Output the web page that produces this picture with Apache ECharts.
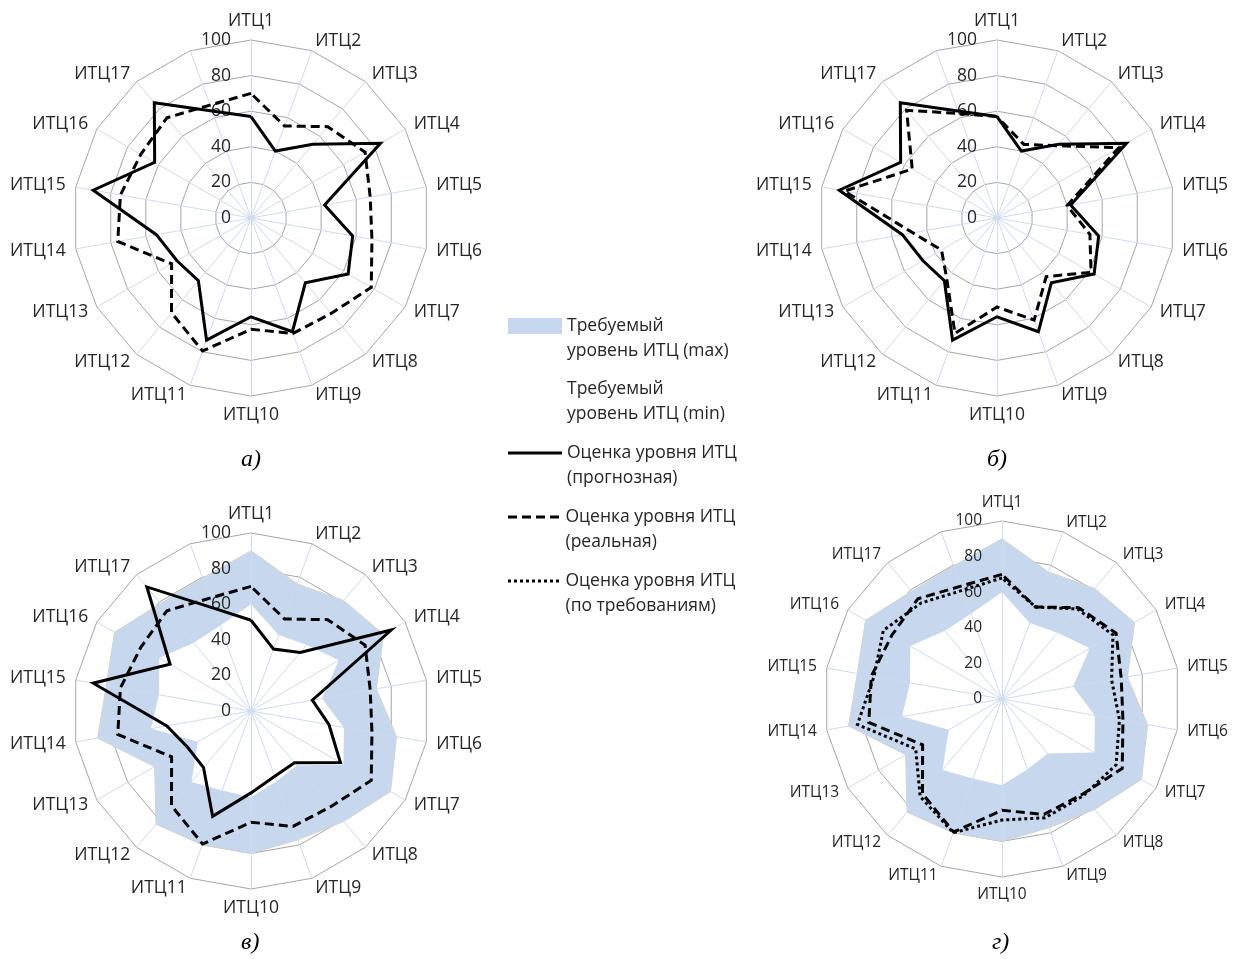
<!DOCTYPE html>
<html>
<head>
<meta charset="utf-8">
<script src="https://cdn.jsdelivr.net/npm/echarts@6/dist/echarts.min.js"></script>
<style>
html, body { margin: 0; padding: 0; background: #ffffff; }
#chart { width: 1237px; height: 959px; }
</style>
</head>
<body>
<div id="chart"></div>
<script>
// ---- data (index 17 is the unlabeled 18th spoke of the original chart) ----
const CATEGORIES = ['ИТЦ1','ИТЦ2','ИТЦ3','ИТЦ4','ИТЦ5','ИТЦ6','ИТЦ7','ИТЦ8','ИТЦ9',
                    'ИТЦ10','ИТЦ11','ИТЦ12','ИТЦ13','ИТЦ14','ИТЦ15','ИТЦ16','ИТЦ17',''];
const TICKS = [0, 20, 40, 60, 80, 100];
const PANEL_LABELS = ['а)', 'б)', 'в)', 'г)'];

const REQ_MAX     = [90, 76, 81, 86, 71.5, 83, 90.5, 81, 77, 80, 80, 83, 62.5, 87.5, 82.5, 88.5, 79, 79.5];
const REQ_MIN     = [60, 45.5, 48.5, 57, 40.5, 53, 60, 40, 42, 48.5, 47.5, 52, 34.5, 57, 52.5, 59.5, 50, 51];
const FORECAST_AB = [57, 40, 54, 84, 42, 58, 63, 47.5, 68, 55.5, 73, 46, 48, 54, 90, 62.5, 84.5, 64];
const FORECAST_V  = [51, 37, 43, 91, 35, 44.5, 58, 38, 39, 46, 63, 41.5, 41, 48, 90, 52.5, 91, 61.5];
const REAL        = [70, 55, 67, 74, 68, 69, 78, 70, 69, 62.5, 79.5, 69.5, 51.5, 76, 74.5, 71.5, 73.5, 67.5];
const REAL_B      = [57, 44, 53, 79, 40, 53, 61, 43, 61, 50, 69, 44, 36, 48, 87, 55, 79, 62.5];
const BY_REQ      = [68, 55, 66, 72, 62.5, 67, 74, 71, 71, 68, 80, 71.5, 56, 82.5, 73, 77, 70.5, 65];

// ---- series names / legend text ----
const N_MAX  = 'Требуемый уровень ИТЦ (max)';
const N_MIN  = 'Требуемый уровень ИТЦ (min)';
const N_FORE = 'Оценка уровня ИТЦ (прогнозная)';
const N_REAL = 'Оценка уровня ИТЦ (реальная)';
const N_REQ  = 'Оценка уровня ИТЦ (по требованиям)';
const LEGEND_TEXT = {};
LEGEND_TEXT[N_MAX]  = 'Требуемый\nуровень ИТЦ (max)';
LEGEND_TEXT[N_MIN]  = 'Требуемый\nуровень ИТЦ (min)';
LEGEND_TEXT[N_FORE] = 'Оценка уровня ИТЦ\n(прогнозная)';
LEGEND_TEXT[N_REAL] = 'Оценка уровня ИТЦ\n(реальная)';
LEGEND_TEXT[N_REQ]  = 'Оценка уровня ИТЦ\n(по требованиям)';

// ---- styling / layout ----
const FONT = "'Open Sans', 'Noto Sans', sans-serif";
const TEXT_COLOR = '#262626';
const BLUE = '#c6d7ee';
const RING = '#a6a6a6';
const SPOKE = '#cfdbee';
const R = 178;
const PANELS = [
  { cx: 251,  cy: 218, font: 17.5 },
  { cx: 997,  cy: 218, font: 17.5 },
  { cx: 251,  cy: 711, font: 17.5 },
  { cx: 1002, cy: 699, font: 15.5 }
];

// ECharts places radar indicators counter-clockwise; the original runs clockwise.
const ORDER = [0];
for (let k = CATEGORIES.length - 1; k >= 1; k--) ORDER.push(k);
const ord = arr => ORDER.map(i => arr[i]);

function baseRadar(p) {
  return {
    center: [p.cx, p.cy], radius: R, startAngle: 90, shape: 'polygon',
    splitNumber: TICKS.length - 1, z: 0,
    indicator: ORDER.map(i => ({ name: CATEGORIES[i], min: TICKS[0], max: TICKS[TICKS.length - 1] })),
    axisName: { color: TEXT_COLOR, fontSize: p.font, fontFamily: FONT },
    nameGap: 10,
    splitLine: { lineStyle: { color: RING, width: 1 } },
    splitArea: { show: false },
    axisLine: { show: false },
    axisTick: { show: false },
    axisLabel: { show: false }
  };
}
function overlayRadar(p) {
  return {
    center: [p.cx, p.cy], radius: R, startAngle: 90, shape: 'polygon',
    splitNumber: TICKS.length - 1, z: 2,
    indicator: ORDER.map((i, k) => ({
      name: '', min: TICKS[0], max: TICKS[TICKS.length - 1],
      axisLabel: k === 0
        ? { show: true, color: TEXT_COLOR, fontSize: p.font, fontFamily: FONT, margin: 20 }
        : { show: false }
    })),
    axisName: { show: false },
    splitLine: { show: false },
    splitArea: { show: false },
    axisLine: { show: true, lineStyle: { color: SPOKE, width: 1 } },
    axisTick: { show: false },
    axisLabel: { show: false }
  };
}

function areaSeries(radarIndex, name, values, fill, edge) {
  return {
    type: 'radar', radarIndex, name, z: 1, silent: true, symbol: 'none',
    itemStyle: { color: fill },
    lineStyle: { color: edge || fill, width: 1, opacity: edge ? 1 : 0 },
    areaStyle: { color: fill, opacity: 1 },
    data: [{ name, value: ord(values) }]
  };
}
function lineSeries(radarIndex, name, values, dash) {
  return {
    type: 'radar', radarIndex, name, z: 3, silent: true, symbol: 'none',
    itemStyle: { color: '#000' },
    lineStyle: { color: '#000', width: 3, type: dash, cap: 'butt', join: 'miter' },
    data: [{ name, value: ord(values) }]
  };
}
const DASHED = [9, 5];
const DOTTED = [3, 3];

const series = [
  // а)
  lineSeries(0, N_REAL, REAL, DASHED),
  lineSeries(0, N_FORE, FORECAST_AB, 'solid'),
  // б)
  lineSeries(1, N_REAL, REAL_B, DASHED),
  lineSeries(1, N_FORE, FORECAST_AB, 'solid'),
  // в)
  areaSeries(2, N_MAX, REQ_MAX, BLUE, '#d8d0b2'),
  areaSeries(2, N_MIN, REQ_MIN, '#ffffff', null),
  lineSeries(2, N_REAL, REAL, DASHED),
  lineSeries(2, N_FORE, FORECAST_V, 'solid'),
  // г)
  areaSeries(3, N_MAX, REQ_MAX, BLUE, '#d8d0b2'),
  areaSeries(3, N_MIN, REQ_MIN, '#ffffff', null),
  lineSeries(3, N_REAL, REAL, DASHED),
  lineSeries(3, N_REQ, BY_REQ, DOTTED)
];

// Legend: an empty first text line puts the icon level with the first real line.
const LEGEND_LH = 25;
const legendText = { fontFamily: FONT, fontSize: 17.5, color: TEXT_COLOR, lineHeight: LEGEND_LH };
function legendBox(centerY, name, icon, color, h) {
  return {
    left: 508, top: centerY - 1.5 * LEGEND_LH, padding: 0, itemWidth: 54, itemHeight: h,
    selectedMode: false, orient: 'vertical',
    formatter: n => ' \n' + LEGEND_TEXT[n],
    textStyle: legendText,
    data: [{ name, icon, itemStyle: { color, borderWidth: 0, opacity: 1 } }]
  };
}
const dashPath = 'path://M0 0h9v3H0z M14 0h9v3H14z M28 0h9v3H28z M42 0h9v3H42z';
const dotPath = 'path://M0 0h3v3H0z M6 0h3v3H6z M12 0h3v3H12z M18 0h3v3H18z M24 0h3v3H24z M30 0h3v3H30z M36 0h3v3H36z M42 0h3v3H42z M48 0h3v3H48z';

const option = {
  backgroundColor: '#ffffff',
  animation: false,
  title: PANELS.map((p, i) => ({
    text: PANEL_LABELS[i], left: p.cx - 10, top: (i < 2 ? 448 : 931), padding: 0,
    textStyle: { fontFamily: "'Liberation Serif', 'DejaVu Serif', serif", fontStyle: 'italic',
                 fontWeight: 'normal', fontSize: 24, color: '#000' }
  })),
  legend: [
    legendBox(326, N_MAX, 'rect', BLUE, 16),
    legendBox(389, N_MIN, 'rect', 'rgba(0,0,0,0)', 16),
    legendBox(453, N_FORE, 'rect', '#000', 3),
    legendBox(517, N_REAL, dashPath, '#000', 3),
    legendBox(581, N_REQ, dotPath, '#000', 3)
  ],
  radar: PANELS.map(baseRadar).concat(PANELS.map(overlayRadar)),
  series
};

const chart = echarts.init(document.getElementById('chart'), null, { renderer: 'canvas' });
chart.setOption(option);
</script>
</body>
</html>
